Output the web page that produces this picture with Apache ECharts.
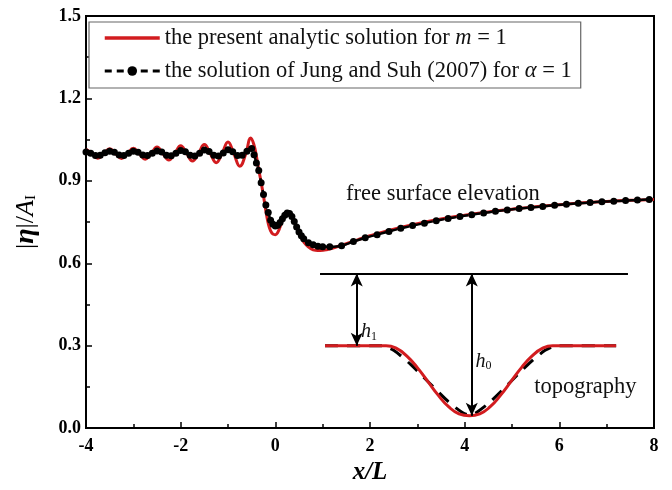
<!DOCTYPE html>
<html><head><meta charset="utf-8">
<script src="https://cdn.jsdelivr.net/npm/echarts@6/dist/echarts.min.js"></script>
<style>html,body{margin:0;padding:0;background:#fff}#c{width:672px;height:490px}</style>
</head><body><div id="c"></div>
<script>
// ---- data ----
const xTicks = [-4, -2, 0, 2, 4, 6, 8];
const yTicks = [0.0, 0.3, 0.6, 0.9, 1.2, 1.5];

const presentX = [-4.0,-3.875,-3.75,-3.625,-3.5,-3.375,-3.25,-3.125,-3.0,-2.875,-2.75,-2.625,-2.5,-2.375,-2.25,-2.125,-2.0,-1.875,-1.75,-1.625,-1.5,-1.375,-1.25,-1.125,-1.0,-0.875,-0.75,-0.625,-0.52,-0.45,-0.4,-0.35,-0.3,-0.25,-0.2,-0.15,-0.1,-0.05,0.0,0.05,0.1,0.15,0.2,0.275,0.35,0.45,0.55,0.65,0.75,0.85,0.95,1.1,1.3,1.5,1.75,2.0,2.5,3.0,3.5,4.0,4.5,5.0,5.5,6.0,6.5,7.0,7.5,8.0];
const presentY = [1.015,1.0,0.982,0.999,1.017,0.999,0.981,0.999,1.019,0.999,0.979,0.999,1.023,0.999,0.976,1.0,1.028,1.0,0.972,1.0,1.032,1.0,0.966,1.0,1.041,0.998,0.953,0.998,1.056,1.03,0.99,0.94,0.895,0.845,0.79,0.745,0.718,0.706,0.704,0.712,0.732,0.757,0.775,0.786,0.772,0.732,0.692,0.667,0.653,0.647,0.646,0.65,0.66,0.671,0.686,0.70,0.724,0.744,0.761,0.775,0.787,0.797,0.806,0.813,0.82,0.825,0.829,0.832];

const jungX = [-4.0,-3.9,-3.8,-3.7,-3.6,-3.5,-3.4,-3.3,-3.2,-3.1,-3.0,-2.9,-2.8,-2.7,-2.6,-2.5,-2.4,-2.3,-2.2,-2.1,-2.0,-1.9,-1.8,-1.7,-1.6,-1.5,-1.4,-1.3,-1.2,-1.1,-1.0,-0.9,-0.8,-0.7,-0.6,-0.5,-0.45,-0.4,-0.35,-0.3,-0.25,-0.2,-0.15,-0.1,-0.05,0.0,0.05,0.1,0.15,0.2,0.25,0.3,0.35,0.4,0.45,0.5,0.55,0.6,0.7,0.8,0.9,1.0,1.15,1.4,1.65,1.9,2.15,2.4,2.65,2.9,3.15,3.4,3.65,3.9,4.15,4.4,4.65,4.9,5.15,5.4,5.65,5.9,6.15,6.4,6.65,6.9,7.15,7.4,7.65,7.9];
const jungY = [1.005,1.0,0.992,0.993,1.002,1.008,1.004,0.994,0.992,1.0,1.008,1.004,0.994,0.992,1.0,1.009,1.005,0.993,0.991,1.0,1.01,1.006,0.993,0.99,1.0,1.012,1.007,0.993,0.99,1.001,1.013,1.006,0.992,0.993,1.008,1.018,0.995,0.965,0.938,0.893,0.85,0.812,0.785,0.757,0.742,0.736,0.738,0.748,0.762,0.775,0.783,0.781,0.77,0.752,0.732,0.714,0.70,0.689,0.675,0.667,0.662,0.66,0.66,0.664,0.679,0.693,0.704,0.716,0.727,0.737,0.746,0.755,0.763,0.77,0.777,0.783,0.789,0.794,0.799,0.803,0.807,0.811,0.815,0.818,0.821,0.824,0.826,0.828,0.83,0.832];

const topoPresentX = [1.05,2.34,2.56,2.78,3.0,3.22,3.44,3.66,3.88,4.1,4.32,4.54,4.76,4.98,5.2,5.42,5.64,5.86,7.2];
const topoPresentY = [0.3,0.3,0.29,0.262,0.22,0.17,0.12,0.078,0.052,0.045,0.052,0.078,0.12,0.17,0.22,0.262,0.29,0.3,0.3];

const topoJungX = [1.05,2.25,2.5,2.87,3.65,3.95,4.1,4.25,4.55,5.33,5.7,5.95,7.2];
const topoJungY = [0.3,0.3,0.283,0.23,0.097,0.057,0.047,0.057,0.097,0.23,0.283,0.3,0.3];

// annotation geometry (data units)
const refLevel = 0.5625;
const refLineX = [0.944, 7.45];
const h1X = 1.72, h1Bottom = 0.3;
const h0X = 4.15, h0Bottom = 0.045;

const seriesNames = ['the present analytic solution for m = 1', 'the solution of Jung and Suh (2007) for α = 1'];

// ---- chart ----
const zip = (a, b) => a.map((v, i) => [v, b[i]]);
const RED = '#d21c1f';
const SERIF = '"Liberation Serif", "Times New Roman", serif';

const chart = echarts.init(document.getElementById('c'), null, {renderer: 'canvas'});
const option = {
  animation: false,
  backgroundColor: '#fff',
  grid: {left: 86, right: 18, top: 16, bottom: 58, show: true, borderColor: '#000', borderWidth: 2, backgroundColor: 'transparent'},
  legend: {
    data: [
      {name: seriesNames[0], itemStyle: {opacity: 0, color: 'rgba(0,0,0,0)', borderWidth: 0}, lineStyle: {width: 3.5, color: RED}},
      {name: seriesNames[1], lineStyle: {width: 3, color: '#000', type: [7, 5]}}
    ],
    orient: 'vertical',
    left: 89, top: 22,
    padding: [4, 9, 5, 14],
    itemGap: 9,
    itemWidth: 55, itemHeight: 12,
    borderColor: '#666', borderWidth: 1.2,
    backgroundColor: '#fff',
    textStyle: {fontFamily: SERIF, fontSize: 22.5, color: '#111', lineHeight: 24,
      rich: {n: {fontFamily: SERIF, fontSize: 22.5, color: '#111'}, i: {fontFamily: SERIF, fontSize: 22.5, fontStyle: 'italic', color: '#111'}}},
    formatter: function (name) {
      if (name === seriesNames[0]) return '{n|the present analytic solution for }{i|m}{n| = 1}';
      return '{n|the solution of Jung and Suh (2007) for }{i|α}{n| = 1}';
    }
  },
  xAxis: {
    type: 'value', min: xTicks[0], max: xTicks[xTicks.length - 1], interval: 2,
    axisLine: {show: true, onZero: false, lineStyle: {color: '#000', width: 2}},
    axisTick: {inside: true, length: 6, lineStyle: {color: '#000', width: 1.5}},
    minorTick: {show: true, splitNumber: 2, length: 4, lineStyle: {color: '#000', width: 1.5}},
    splitLine: {show: false},
    axisLabel: {margin: 9, fontFamily: SERIF, fontWeight: 'bold', fontSize: 18, color: '#000'},
    name: '{v|x}{s|/}{v|L}', nameLocation: 'middle', nameGap: 26,
    nameTextStyle: {rich: {v: {fontFamily: SERIF, fontSize: 25, fontWeight: 'bold', fontStyle: 'italic', color: '#000'}, s: {fontFamily: SERIF, fontSize: 25, fontWeight: 'bold', fontStyle: 'italic', color: '#000'}}}
  },
  yAxis: {
    type: 'value', min: yTicks[0], max: yTicks[yTicks.length - 1], interval: 0.3,
    axisLine: {show: true, onZero: false, lineStyle: {color: '#000', width: 2}},
    axisTick: {inside: true, length: 6, lineStyle: {color: '#000', width: 1.5}},
    minorTick: {show: true, splitNumber: 2, length: 4, lineStyle: {color: '#000', width: 1.5}},
    splitLine: {show: false},
    axisLabel: {margin: 5, fontFamily: SERIF, fontWeight: 'bold', fontSize: 18, color: '#000', formatter: v => v.toFixed(1)},
    name: '{n||}{e|η}{n||/}{a|A}{s|I}', nameLocation: 'middle', nameGap: 46, nameRotate: 90,
    nameTextStyle: {rich: {
      n: {fontFamily: SERIF, fontSize: 26, color: '#000'},
      e: {fontFamily: SERIF, fontSize: 28, fontStyle: 'italic', fontWeight: 'bold', color: '#000'},
      a: {fontFamily: SERIF, fontSize: 26, fontStyle: 'italic', color: '#000'},
      s: {fontFamily: SERIF, fontSize: 15, color: '#000', padding: [10, 0, 0, 0]}
    }}
  },
  series: [
    {name: 'topoJung', type: 'line', data: zip(topoJungX, topoJungY), symbol: 'none', smooth: 0.25, z: 2,
      lineStyle: {color: '#000', width: 3, type: [13, 9]}},
    {name: 'topoPresent', type: 'line', data: zip(topoPresentX, topoPresentY), symbol: 'none', smooth: 0.5, z: 3,
      lineStyle: {color: RED, width: 3}},
    {name: 'annot', type: 'line', data: [], z: 4, silent: true,
      markLine: {silent: true, symbol: ['none', 'none'], label: {show: false},
        lineStyle: {color: '#000', width: 2, type: 'solid'},
        data: [
          [{coord: [refLineX[0], refLevel]}, {coord: [refLineX[1], refLevel]}],
          [{coord: [h1X, refLevel], symbol: 'arrow', symbolSize: [9, 13]}, {coord: [h1X, h1Bottom], symbol: 'arrow', symbolSize: [9, 13]}],
          [{coord: [h0X, refLevel], symbol: 'arrow', symbolSize: [9, 13]}, {coord: [h0X, h0Bottom], symbol: 'arrow', symbolSize: [9, 13]}]
        ]}},
    {name: seriesNames[0], type: 'line', data: zip(presentX, presentY), symbol: 'none', smooth: 0.45, z: 5,
      color: RED, lineStyle: {color: RED, width: 3}},
    {name: seriesNames[1], type: 'line', data: zip(jungX, jungY), smooth: 0.3, z: 6,
      symbol: 'circle', symbolSize: 7, showSymbol: true,
      color: '#000', itemStyle: {color: '#000'}, lineStyle: {color: '#000', width: 2.5, type: [7, 5]}}
  ]
};
chart.setOption(option);

const p = (x, y) => chart.convertToPixel({gridIndex: 0}, [x, y]);
const fs = p(3.54, 0.85), tp = p(6.55, 0.148), h1 = p(h1X + 0.09, 0.35), h0 = p(h0X + 0.08, 0.243);
const sub = {h: {fontFamily: SERIF, fontSize: 20, fontStyle: 'italic', fill: '#111'}, s: {fontFamily: SERIF, fontSize: 12, fill: '#111', padding: [10, 0, 0, 0]}};
chart.setOption({graphic: [
  {type: 'text', x: fs[0], y: fs[1], style: {text: 'free surface elevation', font: '22.5px ' + SERIF, fill: '#111', align: 'center', verticalAlign: 'middle'}},
  {type: 'text', x: tp[0], y: tp[1], style: {text: 'topography', font: '22.5px ' + SERIF, fill: '#111', align: 'center', verticalAlign: 'middle'}},
  {type: 'text', x: h1[0], y: h1[1], style: {text: '{h|h}{s|1}', align: 'left', verticalAlign: 'middle', rich: sub}},
  {type: 'text', x: h0[0], y: h0[1], style: {text: '{h|h}{s|0}', align: 'left', verticalAlign: 'middle', rich: sub}}
]});
</script>
</body></html>
